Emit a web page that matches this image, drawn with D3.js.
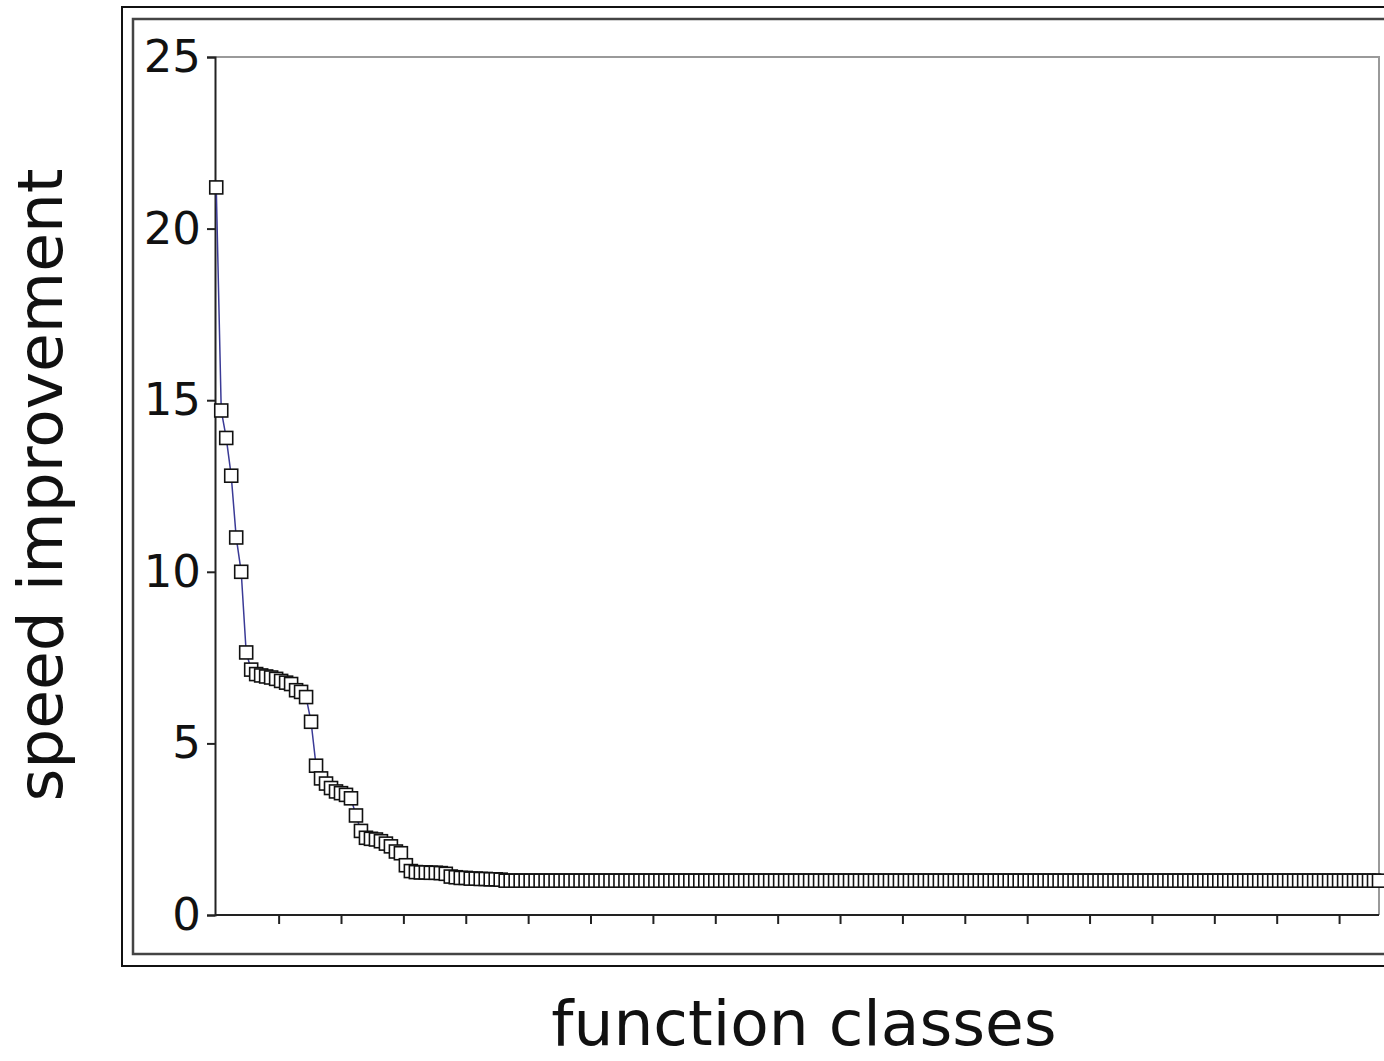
<!DOCTYPE html>
<html>
<head>
<meta charset="utf-8">
<title>speed improvement</title>
<script src="https://cdn.jsdelivr.net/npm/d3@7"></script>
<style>
  body { margin: 0; background: #fff; }
  svg { display: block; font-family: "DejaVu Sans", sans-serif; }
</style>
</head>
<body>
<div id="chart"></div>
<script>
// speed improvement per function class, sorted descending
var speedup = [
  21.2, 14.7, 13.9, 12.8, 11.0, 10.0, 7.65, 7.15, 7.02, 6.98, 6.95, 6.92, 6.88, 6.82, 6.77, 6.73,
  6.55, 6.5, 6.35, 5.63, 4.35, 3.98, 3.83, 3.7, 3.6, 3.55, 3.5, 3.4, 2.9, 2.45, 2.25, 2.22,
  2.2, 2.15, 2.08, 2.0, 1.85, 1.8, 1.45, 1.28, 1.25, 1.24, 1.24, 1.23, 1.23, 1.22, 1.2, 1.12,
  1.1, 1.08, 1.08, 1.06, 1.06, 1.05, 1.05, 1.04, 1.04, 1.03,
  1.0, 1.0, 1.0, 1.0, 1.0, 1.0, 1.0, 1.0, 1.0, 1.0, 1.0, 1.0, 1.0, 1.0, 1.0, 1.0,
  1.0, 1.0, 1.0, 1.0, 1.0, 1.0, 1.0, 1.0, 1.0, 1.0, 1.0, 1.0, 1.0, 1.0, 1.0, 1.0,
  1.0, 1.0, 1.0, 1.0, 1.0, 1.0, 1.0, 1.0, 1.0, 1.0, 1.0, 1.0, 1.0, 1.0, 1.0, 1.0,
  1.0, 1.0, 1.0, 1.0, 1.0, 1.0, 1.0, 1.0, 1.0, 1.0, 1.0, 1.0, 1.0, 1.0, 1.0, 1.0,
  1.0, 1.0, 1.0, 1.0, 1.0, 1.0, 1.0, 1.0, 1.0, 1.0, 1.0, 1.0, 1.0, 1.0, 1.0, 1.0,
  1.0, 1.0, 1.0, 1.0, 1.0, 1.0, 1.0, 1.0, 1.0, 1.0, 1.0, 1.0, 1.0, 1.0, 1.0, 1.0,
  1.0, 1.0, 1.0, 1.0, 1.0, 1.0, 1.0, 1.0, 1.0, 1.0, 1.0, 1.0, 1.0, 1.0, 1.0, 1.0,
  1.0, 1.0, 1.0, 1.0, 1.0, 1.0, 1.0, 1.0, 1.0, 1.0, 1.0, 1.0, 1.0, 1.0, 1.0, 1.0,
  1.0, 1.0, 1.0, 1.0, 1.0, 1.0, 1.0, 1.0, 1.0, 1.0, 1.0, 1.0, 1.0, 1.0, 1.0, 1.0,
  1.0, 1.0, 1.0, 1.0, 1.0, 1.0, 1.0, 1.0, 1.0, 1.0, 1.0, 1.0, 1.0, 1.0, 1.0, 1.0,
  1.0, 1.0, 1.0, 1.0, 1.0, 1.0, 1.0, 1.0, 1.0, 1.0, 1.0, 1.0, 1.0, 1.0, 1.0, 1.0
];
var yTicks = [0, 5, 10, 15, 20, 25];
var xTickStep = 12.5;   // unlabeled x ticks, in class-index units

var W = 1384, H = 1061;
var plot = {left: 215, top: 57, right: 1379, bottom: 915};

var svg = d3.select("#chart").append("svg")
  .attr("width", W)
  .attr("height", H);

svg.append("rect").attr("width", W).attr("height", H).attr("fill", "#fff");

// double frame around the chart (runs off the right edge)
svg.append("rect")
  .attr("x", 122).attr("y", 7).attr("width", 1400).attr("height", 959)
  .attr("fill", "none").attr("stroke", "#111").attr("stroke-width", 2);
svg.append("rect")
  .attr("x", 133).attr("y", 19).attr("width", 1400).attr("height", 935)
  .attr("fill", "none").attr("stroke", "#444").attr("stroke-width", 2.5);

var x = d3.scaleLinear()
  .domain([-0.25, speedup.length - 1])
  .range([plot.left, plot.right]);

var y = d3.scaleLinear()
  .domain([0, 25])
  .range([plot.bottom, plot.top]);

// top and right plot border, light grey
svg.append("path")
  .attr("d", "M" + plot.left + "," + plot.top + "H" + plot.right + "V" + plot.bottom)
  .attr("fill", "none").attr("stroke", "#9a9a9a").attr("stroke-width", 2);

// y axis
var yAxis = svg.append("g")
  .attr("transform", "translate(" + plot.left + ",0)")
  .call(d3.axisLeft(y).tickValues(yTicks).tickSize(8).tickPadding(6));
yAxis.select(".domain").attr("stroke", "#222").attr("stroke-width", 2);
yAxis.selectAll(".tick line").attr("stroke", "#222").attr("stroke-width", 2);
yAxis.selectAll(".tick text")
  .attr("font-size", 45).attr("fill", "#111")
  .attr("font-family", "DejaVu Sans");

// x axis: ticks only, no labels
var xTicks = d3.range(xTickStep, speedup.length, xTickStep);
var xAxis = svg.append("g")
  .attr("transform", "translate(0," + plot.bottom + ")")
  .call(d3.axisBottom(x).tickValues(xTicks).tickSize(9).tickFormat(""));
xAxis.select(".domain").attr("stroke", "#222").attr("stroke-width", 2)
  .attr("d", "M" + plot.left + ",0H" + plot.right);
xAxis.selectAll(".tick line").attr("stroke", "#222").attr("stroke-width", 2);

var line = d3.line()
  .x(function(d, i) { return x(i); })
  .y(function(d) { return y(d); });

svg.append("path")
  .datum(speedup)
  .attr("d", line)
  .attr("fill", "none")
  .attr("stroke", "#3a3a96")
  .attr("stroke-width", 1.5);

var s = 13;
svg.selectAll("rect.pt")
  .data(speedup)
  .enter()
  .append("rect")
    .attr("class", "pt")
    .attr("x", function(d, i) { return x(i) - s / 2; })
    .attr("y", function(d) { return y(d) - s / 2; })
    .attr("width", s)
    .attr("height", s)
    .attr("fill", "#fff")
    .attr("stroke", "#111")
    .attr("stroke-width", 1.6);

// axis titles
svg.append("text")
  .attr("transform", "translate(62,485) rotate(-90)")
  .attr("text-anchor", "middle")
  .attr("font-size", 63)
  .attr("fill", "#111")
  .text("speed improvement");

svg.append("text")
  .attr("x", 804)
  .attr("y", 1045)
  .attr("text-anchor", "middle")
  .attr("font-size", 63)
  .attr("fill", "#111")
  .text("function classes");
</script>
</body>
</html>
